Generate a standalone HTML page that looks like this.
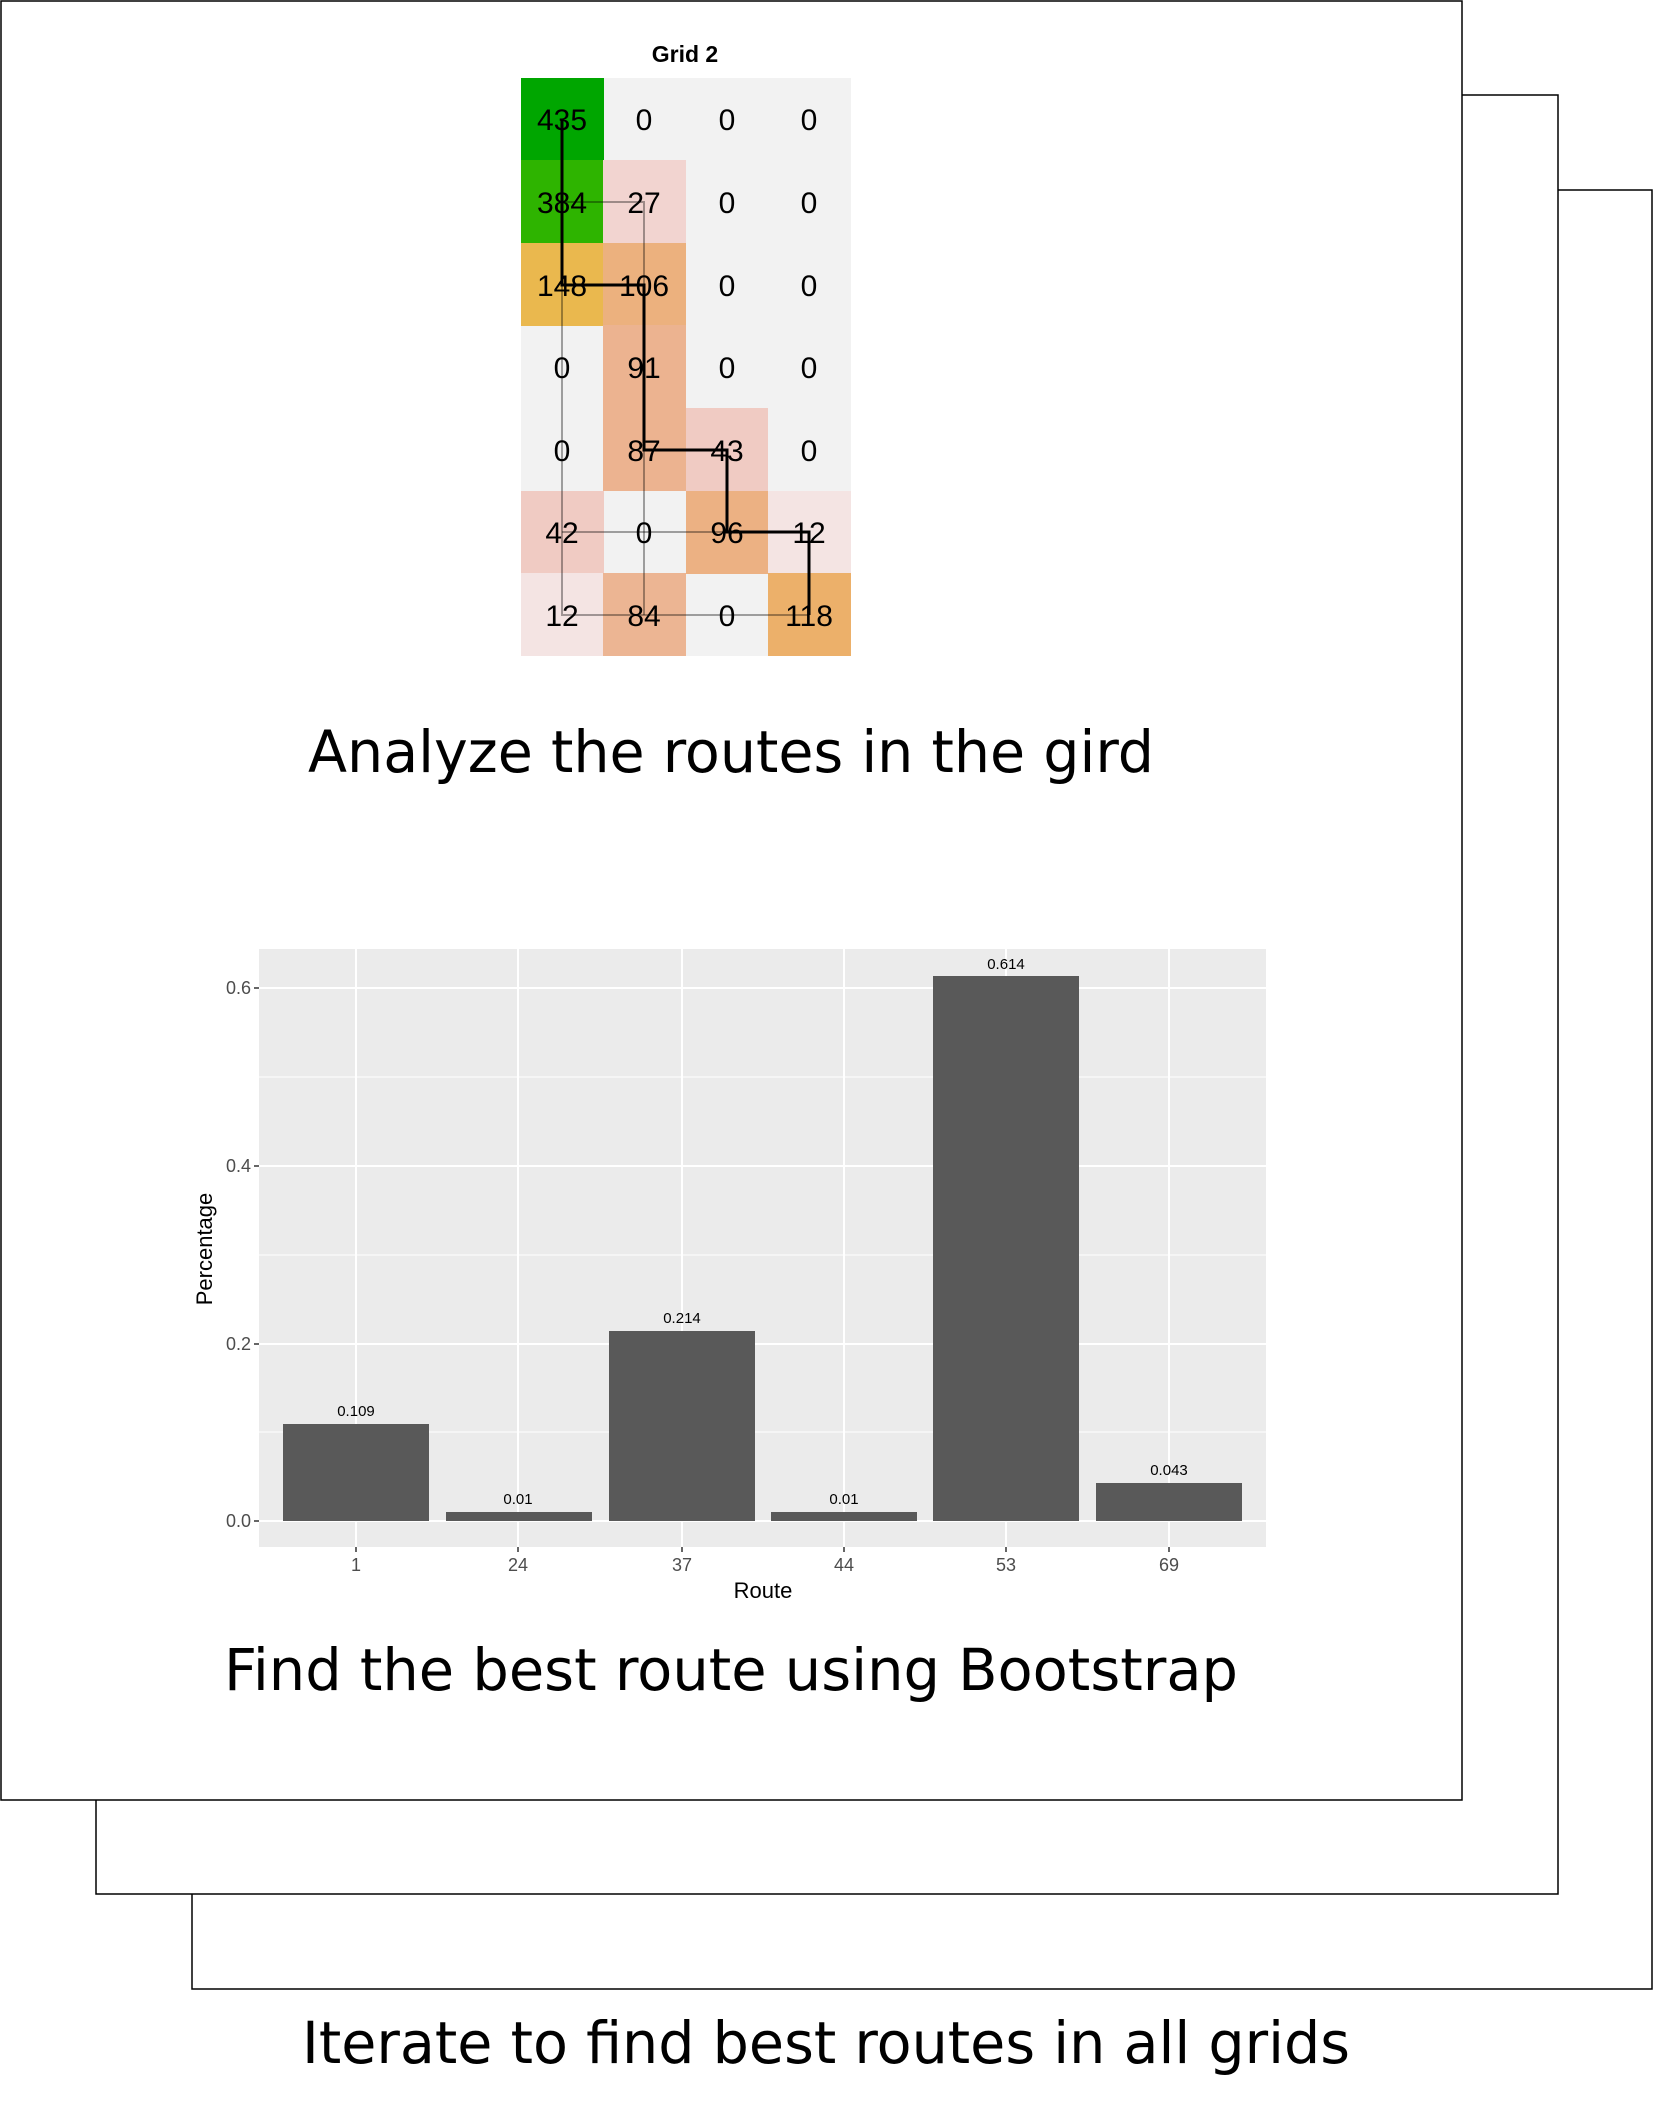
<!DOCTYPE html>
<html><head><meta charset="utf-8"><style>
html,body{margin:0;padding:0;background:#fff;}
svg{display:block;}
</style></head><body>
<svg width="1654" height="2117" viewBox="0 0 1654 2117" xmlns="http://www.w3.org/2000/svg">
<rect x="192" y="190" width="1460" height="1799" fill="#fff" stroke="#000" stroke-width="1.5"/>
<rect x="96" y="95" width="1462" height="1799" fill="#fff" stroke="#000" stroke-width="1.5"/>
<rect x="1" y="1" width="1461" height="1799" fill="#fff" stroke="#000" stroke-width="1.5"/>

<text x="685" y="62" font-family="Liberation Sans, sans-serif" font-weight="bold" font-size="23" text-anchor="middle">Grid 2</text>
<g>
<rect x="521" y="78" width="330" height="578" fill="#f2f2f2"/>
<rect x="521" y="78" width="83" height="83" fill="#00a600"/>
<rect x="521" y="160" width="83" height="83" fill="#2eb400"/>
<rect x="603" y="160" width="83" height="83" fill="#f2d4d0"/>
<rect x="521" y="243" width="83" height="83" fill="#eab84e"/>
<rect x="603" y="243" width="83" height="83" fill="#ecb17e"/>
<rect x="603" y="325" width="83" height="166" fill="#ecb390"/>
<rect x="686" y="408" width="82" height="83" fill="#f0cbc3"/>
<rect x="521" y="491" width="83" height="83" fill="#f0cbc3"/>
<rect x="686" y="491" width="82" height="83" fill="#ecb183"/>
<rect x="768" y="491" width="83" height="83" fill="#f4e4e3"/>
<rect x="521" y="573" width="83" height="83" fill="#f4e4e3"/>
<rect x="603" y="573" width="83" height="83" fill="#ecb593"/>
<rect x="768" y="573" width="83" height="83" fill="#ecb06a"/>
</g>
<g stroke="#000" stroke-opacity="0.35" stroke-width="2" fill="none">
<polyline points="562,202 644,202 644,615"/>
<polyline points="562,285 562,615 809,615"/>
<polyline points="562,532 809,532"/>
</g>
<polyline points="562,119 562,285 644,285 644,450 727,450 727,532 809,532 809,615" stroke="#000" stroke-width="3" fill="none"/>
<g font-family="Liberation Sans, sans-serif" font-size="30" text-anchor="middle" fill="#000">
<text x="562" y="130">435</text><text x="644" y="130">0</text><text x="727" y="130">0</text><text x="809" y="130">0</text>
<text x="562" y="213">384</text><text x="644" y="213">27</text><text x="727" y="213">0</text><text x="809" y="213">0</text>
<text x="562" y="296">148</text><text x="644" y="296">106</text><text x="727" y="296">0</text><text x="809" y="296">0</text>
<text x="562" y="378">0</text><text x="644" y="378">91</text><text x="727" y="378">0</text><text x="809" y="378">0</text>
<text x="562" y="461">0</text><text x="644" y="461">87</text><text x="727" y="461">43</text><text x="809" y="461">0</text>
<text x="562" y="543">42</text><text x="644" y="543">0</text><text x="727" y="543">96</text><text x="809" y="543">12</text>
<text x="562" y="626">12</text><text x="644" y="626">84</text><text x="727" y="626">0</text><text x="809" y="626">118</text>
</g>

<g font-family="DejaVu Sans, 'Noto Sans CJK KR', sans-serif" font-size="58" text-anchor="middle" fill="#000">
<text x="731" y="772" textLength="846" lengthAdjust="spacingAndGlyphs">Analyze the routes in the gird</text>
<text x="731" y="1690" textLength="1014" lengthAdjust="spacingAndGlyphs">Find the best route using Bootstrap</text>
<text x="826" y="2063" textLength="1048" lengthAdjust="spacingAndGlyphs">Iterate to find best routes in all grids</text>
</g>

<rect x="259" y="949" width="1007" height="598" fill="#ebebeb"/>
<g stroke="#fff" stroke-width="1">
<line x1="259" y1="1432" x2="1266" y2="1432"/>
<line x1="259" y1="1255" x2="1266" y2="1255"/>
<line x1="259" y1="1077" x2="1266" y2="1077"/>
</g>
<g stroke="#fff" stroke-width="2">
<line x1="259" y1="1521" x2="1266" y2="1521"/>
<line x1="259" y1="1344" x2="1266" y2="1344"/>
<line x1="259" y1="1166" x2="1266" y2="1166"/>
<line x1="259" y1="988" x2="1266" y2="988"/>
<line x1="356" y1="949" x2="356" y2="1547"/>
<line x1="518" y1="949" x2="518" y2="1547"/>
<line x1="682" y1="949" x2="682" y2="1547"/>
<line x1="844" y1="949" x2="844" y2="1547"/>
<line x1="1006" y1="949" x2="1006" y2="1547"/>
<line x1="1169" y1="949" x2="1169" y2="1547"/>
</g>
<g fill="#595959">
<rect x="283" y="1424" width="146" height="97"/>
<rect x="446" y="1512" width="146" height="9"/>
<rect x="609" y="1331" width="146" height="190"/>
<rect x="771" y="1512" width="146" height="9"/>
<rect x="933" y="976" width="146" height="545"/>
<rect x="1096" y="1483" width="146" height="38"/>
</g>
<g font-family="Liberation Sans, sans-serif" font-size="15" text-anchor="middle" fill="#000">
<text x="356" y="1416">0.109</text>
<text x="518" y="1504">0.01</text>
<text x="682" y="1323">0.214</text>
<text x="844" y="1504">0.01</text>
<text x="1006" y="969">0.614</text>
<text x="1169" y="1475">0.043</text>
</g>
<g stroke="#333" stroke-width="1.5">
<line x1="254" y1="1521" x2="259" y2="1521"/><line x1="254" y1="1344" x2="259" y2="1344"/>
<line x1="254" y1="1166" x2="259" y2="1166"/><line x1="254" y1="988" x2="259" y2="988"/>
<line x1="356" y1="1547" x2="356" y2="1552"/><line x1="518" y1="1547" x2="518" y2="1552"/>
<line x1="682" y1="1547" x2="682" y2="1552"/><line x1="844" y1="1547" x2="844" y2="1552"/>
<line x1="1006" y1="1547" x2="1006" y2="1552"/><line x1="1169" y1="1547" x2="1169" y2="1552"/>
</g>
<g font-family="Liberation Sans, sans-serif" font-size="18" fill="#4d4d4d">
<g text-anchor="end">
<text x="251" y="1527">0.0</text><text x="251" y="1350">0.2</text>
<text x="251" y="1172">0.4</text><text x="251" y="994">0.6</text>
</g>
<g text-anchor="middle">
<text x="356" y="1571">1</text><text x="518" y="1571">24</text><text x="682" y="1571">37</text>
<text x="844" y="1571">44</text><text x="1006" y="1571">53</text><text x="1169" y="1571">69</text>
</g>
</g>
<text x="763" y="1598" font-family="Liberation Sans, sans-serif" font-size="22" text-anchor="middle">Route</text>
<text transform="translate(212,1249) rotate(-90)" font-family="Liberation Sans, sans-serif" font-size="22" text-anchor="middle">Percentage</text>
</svg>
</body></html>
